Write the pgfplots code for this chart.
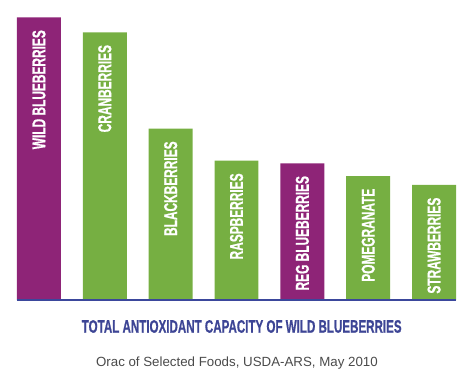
\documentclass[border=0pt]{standalone}
\usepackage{pgfplots}
\pgfplotsset{compat=1.18}
\usepackage{fontspec}
\setmainfont{Liberation Sans}
\newfontfamily\condbold[FakeStretch=0.64, FakeBold=0.6]{Liberation Sans Bold}
\definecolor{berrypurple}{HTML}{8E2477}
\definecolor{berrygreen}{HTML}{76AF42}
\definecolor{baseblue}{HTML}{3B479C}
\definecolor{titleblue}{HTML}{3D4595}
\definecolor{subgray}{HTML}{4A4A4A}
\begin{document}
\begin{tikzpicture}
\path[use as bounding box] (-17bp,-78bp) rectangle (457bp,300bp);
\begin{axis}[
  scale only axis, width=439bp, height=300bp,
  xmin=-0.3333, xmax=6.3333, ymin=0, ymax=10220,
  hide axis, clip=false,
  ybar, bar width=0.667, bar shift=0pt,
  point meta=explicit symbolic,
  nodes near coords,
  every node near coord/.append style={rotate=90, anchor=east, inner xsep=12.5bp, inner ysep=0pt, text=white, font=\condbold\fontsize{18.6bp}{18bp}\selectfont},
]
\addplot[fill=berrypurple, draw=none] coordinates {
  (0,9624) [WILD BLUEBERRIES]
  (4,4657) [REG BLUEBERRIES]
};
\addplot[fill=berrygreen, draw=none] coordinates {
  (1,9120) [CRANBERRIES]
  (2,5836) [BLACKBERRIES]
  (3,4745) [RASPBERRIES]
  (5,4224) [POMEGRANATE]
  (6,3918) [STRAWBERRIES]
};
\draw[baseblue, line width=2bp] (axis cs:-0.3333,0) -- (axis cs:6.3333,0);
\end{axis}
\node[anchor=base, text=titleblue, font=\condbold\fontsize{18.1bp}{19bp}\selectfont] at (224.7bp,-32.7bp) {TOTAL ANTIOXIDANT CAPACITY OF WILD BLUEBERRIES};
\node[anchor=base, text=subgray, font=\fontsize{13.3bp}{15bp}\selectfont] at (219.9bp,-66.5bp) {Orac of Selected Foods, USDA-ARS, May 2010};
\end{tikzpicture}
\end{document}
